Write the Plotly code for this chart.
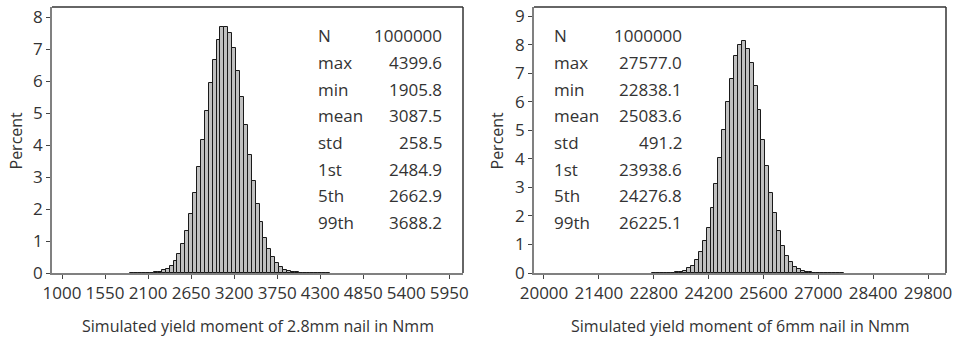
import plotly.graph_objects as go

# ---------------- data ----------------
left_bins = [1900, 1950, 2000, 2050, 2100, 2150, 2200, 2250, 2300, 2350, 2400, 2450, 2500, 2550,
             2600, 2650, 2700, 2750, 2800, 2850, 2900, 2950, 3000, 3050, 3100, 3150, 3200, 3250,
             3300, 3350, 3400, 3450, 3500, 3550, 3600, 3650, 3700, 3750, 3800, 3850, 3900, 3950,
             4000, 4050, 4100, 4150, 4200, 4250, 4300, 4350, 4400]
left_pct = [0.002, 0.002, 0.004, 0.006, 0.01, 0.015, 0.025, 0.045, 0.08, 0.14, 0.23, 0.36, 0.59, 0.9,
            1.32, 1.84, 2.5, 3.31, 4.16, 5.08, 5.95, 6.65, 7.3, 7.68, 7.69, 7.5, 7.05, 6.32,
            5.52, 4.64, 3.7, 2.88, 2.15, 1.58, 1.1, 0.75, 0.49, 0.3, 0.18, 0.1, 0.06, 0.035,
            0.02, 0.012, 0.007, 0.005, 0.003, 0.002, 0.001, 0.001, 0.0005]

right_bins = [22800, 22900, 23000, 23100, 23200, 23300, 23400, 23500, 23600, 23700, 23800, 23900,
              24000, 24100, 24200, 24300, 24400, 24500, 24600, 24700, 24800, 24900, 25000, 25100,
              25200, 25300, 25400, 25500, 25600, 25700, 25800, 25900, 26000, 26100, 26200, 26300,
              26400, 26500, 26600, 26700, 26800, 26900, 27000, 27100, 27200, 27300, 27400, 27500, 27600]
right_pct = [0.0005, 0.001, 0.002, 0.003, 0.006, 0.012, 0.024, 0.045, 0.085, 0.16, 0.26, 0.45,
             0.74, 1.12, 1.58, 2.28, 3.13, 4.03, 5.01, 5.99, 6.8, 7.59, 7.98, 8.14,
             7.86, 7.35, 6.55, 5.7, 4.67, 3.74, 2.82, 2.1, 1.47, 0.95, 0.6, 0.38,
             0.22, 0.13, 0.07, 0.035, 0.018, 0.009, 0.004, 0.002, 0.001, 0.001, 0.0005, 0.0003, 0.0002]

left_bin_width = 50
right_bin_width = 100

left_xticks = [1000, 1550, 2100, 2650, 3200, 3750, 4300, 4850, 5400, 5950]
right_xticks = [20000, 21400, 22800, 24200, 25600, 27000, 28400, 29800]
left_yticks = [0, 1, 2, 3, 4, 5, 6, 7, 8]
right_yticks = [0, 1, 2, 3, 4, 5, 6, 7, 8, 9]

stat_names = ["N", "max", "min", "mean", "std", "1st", "5th", "99th"]
left_stat_values = ["1000000", "4399.6", "1905.8", "3087.5", "258.5", "2484.9", "2662.9", "3688.2"]
right_stat_values = ["1000000", "27577.0", "22838.1", "25083.6", "491.2", "23938.6", "24276.8", "26225.1"]

left_xtitle = "Simulated yield moment of 2.8mm nail in Nmm"
right_xtitle = "Simulated yield moment of 6mm nail in Nmm"
ytitle = "Percent"

# ---------------- layout helpers ----------------
W, H = 957, 344
ML, MR, MT, MB = 52, 11, 4, 71
PW = W - ML - MR
PH = H - MT - MB
FONT = "Open Sans"
TXT = "#333333"


def px(p):
    return (p - ML) / PW


def py(p):
    return (H - MB - p) / PH


fig = go.Figure()
fig.add_trace(go.Bar(x=left_bins, y=left_pct, width=left_bin_width, xaxis="x", yaxis="y",
                     marker=dict(color="#c0c0c0", line=dict(color="#1a1a1a", width=1)),
                     showlegend=False))
fig.add_trace(go.Bar(x=right_bins, y=right_pct, width=right_bin_width, xaxis="x2", yaxis="y2",
                     marker=dict(color="#c0c0c0", line=dict(color="#1a1a1a", width=1)),
                     showlegend=False))

axis_common = dict(showgrid=False, zeroline=False, showline=True, linecolor="#808080", linewidth=1.5,
                   ticks="outside", ticklen=4, tickwidth=1, tickcolor="#444444", tickformat="d",
                   tickfont=dict(family=FONT, size=17, color=TXT))

fig.update_layout(
    width=W, height=H, autosize=False,
    margin=dict(l=ML, r=MR, t=MT, b=MB),
    paper_bgcolor="white", plot_bgcolor="white",
    bargap=0,
    xaxis=dict(domain=[0, px(463)], range=[872, 6125], tickvals=left_xticks, anchor="y", **axis_common),
    yaxis=dict(domain=[0, 1], range=[0, 8.32], tickvals=left_yticks, anchor="x", **axis_common),
    xaxis2=dict(domain=[px(534), 1], range=[19745, 30259], tickvals=right_xticks, anchor="y2", **axis_common),
    yaxis2=dict(domain=[0, 1], range=[0, 9.32], tickvals=right_yticks, anchor="x2", **axis_common),
)

shapes = []
for xr, yr in (("x domain", "y domain"), ("x2 domain", "y2 domain")):
    shapes.append(dict(type="line", xref=xr, yref=yr, x0=0, x1=1, y0=1, y1=1,
                       line=dict(color="#333333", width=1.5)))
    shapes.append(dict(type="line", xref=xr, yref=yr, x0=1, x1=1, y0=0, y1=1,
                       line=dict(color="#333333", width=1.5)))
fig.update_layout(shapes=shapes)

ann = []
row_y = [33, 60, 87, 114, 141, 168, 195, 222]
for name_x, val_x, vals in ((316, 444, left_stat_values), (552, 684, right_stat_values)):
    for i, (n, v) in enumerate(zip(stat_names, vals)):
        ann.append(dict(x=px(name_x), y=py(row_y[i]), xref="paper", yref="paper", text=n,
                        showarrow=False, xanchor="left", yanchor="middle",
                        font=dict(family=FONT, size=17, color=TXT)))
        ann.append(dict(x=px(val_x), y=py(row_y[i]), xref="paper", yref="paper", text=v,
                        showarrow=False, xanchor="right", yanchor="middle",
                        font=dict(family=FONT, size=17, color=TXT)))

for cx, t in ((257.5, left_xtitle), (740, right_xtitle)):
    ann.append(dict(x=px(cx), y=py(327), xref="paper", yref="paper", text=t, showarrow=False,
                    xanchor="center", yanchor="middle", font=dict(family=FONT, size=16, color=TXT)))
for cx in (16, 497):
    ann.append(dict(x=px(cx), y=py(139), xref="paper", yref="paper", text=ytitle, showarrow=False,
                    textangle=-90, xanchor="center", yanchor="middle",
                    font=dict(family=FONT, size=16, color=TXT)))
fig.update_layout(annotations=ann)

fig.write_html("out.html")
